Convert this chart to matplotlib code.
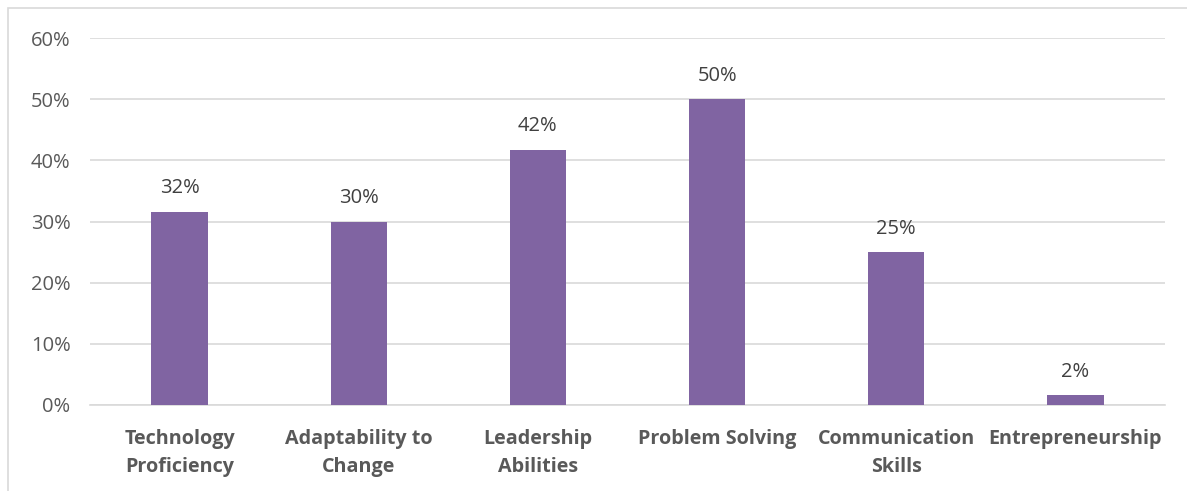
import matplotlib
matplotlib.use("Agg")
from matplotlib import pyplot as plt
from matplotlib.patches import Rectangle

categories = ["Technology\nProficiency", "Adaptability to\nChange", "Leadership\nAbilities",
              "Problem Solving", "Communication\nSkills", "Entrepreneurship"]
values = [31.6, 30.0, 41.7, 50.0, 25.0, 1.6]
labels = ["32%", "30%", "42%", "50%", "25%", "2%"]
yticks = [0, 10, 20, 30, 40, 50, 60]

plt.rcParams['font.family'] = ['Open Sans', 'DejaVu Sans']

fig = plt.figure(figsize=(11.87, 4.91), dpi=100)
ax = fig.add_axes([90 / 1187, 1 - 405 / 491, (1165 - 90) / 1187, (405 - 38) / 491])

x = range(len(categories))
ax.bar(x, values, width=0.315, color="#8064A2", zorder=3)

for i, v in enumerate(values):
    ax.text(i, v + 2.2, labels[i], ha="center", va="bottom", fontsize=14.5, color="#404040")

ax.set_xlim(-0.5, len(categories) - 0.5)
ax.set_ylim(0, 60)
ax.set_yticks(yticks)
ax.set_yticklabels([f"{t}%" for t in yticks], fontsize=14.5, color="#595959")
ax.set_xticks(list(x))
ax.set_xticklabels(categories, fontsize=14.2, fontweight="bold", color="#595959", linespacing=1.55)
ax.tick_params(axis="both", length=0)
ax.tick_params(axis="y", pad=14)
ax.tick_params(axis="x", pad=17)
ax.grid(axis="y", color="#D9D9D9", linewidth=1.2, zorder=0)
for s in ["top", "right", "left"]:
    ax.spines[s].set_visible(False)
ax.spines["bottom"].set_color("#D9D9D9")
ax.spines["bottom"].set_linewidth(1.2)

# outer chart border
fig.patches.append(Rectangle((8 / 1187, -0.1), 1.2, 1 - 8 / 491 + 0.1, transform=fig.transFigure,
                             fill=False, edgecolor="#D9D9D9", linewidth=1.2))

fig.savefig("out.png", dpi=100)
plt.close()
